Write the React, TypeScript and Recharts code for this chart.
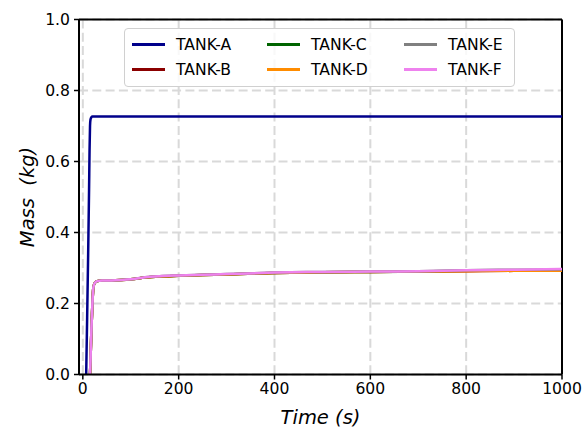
import { LineChart, Line, XAxis, YAxis, CartesianGrid, Legend, ReferenceLine, Label } from "recharts";

const times = [7, 9, 11, 13, 14, 15, 16, 18, 20, 22, 25, 30, 40, 60, 80, 100, 130, 160, 200, 250, 300, 400, 500, 600, 700, 800, 900, 1000];

const tankA = [0, 0.16, 0.33, 0.52, 0.63, 0.7, 0.718, 0.725, 0.727, 0.727, 0.727, 0.727, 0.727, 0.727, 0.727, 0.727, 0.727, 0.727, 0.727, 0.727, 0.727, 0.727, 0.727, 0.727, 0.727, 0.727, 0.727, 0.727];
const tankB = [null, null, null, null, null, 0, 0.04, 0.13, 0.2, 0.245, 0.258, 0.263, 0.265, 0.265, 0.266, 0.268, 0.273, 0.276, 0.278, 0.28, 0.282, 0.286, 0.288, 0.289, 0.29, 0.291, 0.292, 0.292];
const tankC = [null, null, null, null, null, 0, 0.04, 0.13, 0.2, 0.245, 0.258, 0.263, 0.265, 0.265, 0.266, 0.268, 0.273, 0.276, 0.278, 0.28, 0.282, 0.286, 0.288, 0.289, 0.29, 0.292, 0.293, 0.293];
const tankD = [null, null, null, null, null, 0, 0.04, 0.13, 0.2, 0.245, 0.258, 0.263, 0.265, 0.265, 0.266, 0.268, 0.273, 0.276, 0.278, 0.28, 0.282, 0.286, 0.288, 0.289, 0.29, 0.291, 0.292, 0.292];
const tankE = [null, null, null, null, null, 0, 0.04, 0.13, 0.2, 0.245, 0.258, 0.263, 0.265, 0.265, 0.266, 0.268, 0.274, 0.277, 0.279, 0.281, 0.283, 0.287, 0.289, 0.29, 0.291, 0.294, 0.295, 0.296];
const tankF = [null, null, null, null, null, 0, 0.04, 0.13, 0.2, 0.245, 0.258, 0.263, 0.265, 0.265, 0.266, 0.268, 0.274, 0.277, 0.279, 0.281, 0.283, 0.287, 0.289, 0.29, 0.291, 0.294, 0.295, 0.297];

const xTicks = [0, 200, 400, 600, 800, 1000];
const yTicks = [0, 0.2, 0.4, 0.6, 0.8, 1.0];

const series = [
  { key: "A", name: "TANK-A", color: "#00008b", values: tankA },
  { key: "B", name: "TANK-B", color: "#8b0000", values: tankB },
  { key: "C", name: "TANK-C", color: "#006400", values: tankC },
  { key: "D", name: "TANK-D", color: "#ff8c00", values: tankD },
  { key: "E", name: "TANK-E", color: "#808080", values: tankE },
  { key: "F", name: "TANK-F", color: "#ee82ee", values: tankF },
];

const data = times.map((t, i) => {
  const row: Record<string, number | null> = { t };
  series.forEach((s) => {
    row[s.key] = s.values[i];
  });
  return row;
});

const font = "'DejaVu Sans', sans-serif";
const tickStyle = { fill: "#000", fontSize: 15.6, fontFamily: font };

function LegendBox(props: any) {
  const payload = props.payload || [];
  return (
    <div
      style={{
        boxSizing: "border-box",
        width: 391,
        height: 59,
        border: "1px solid #d0d0d0",
        borderRadius: 4,
        background: "rgba(255,255,255,0.8)",
        paddingLeft: 7,
        paddingTop: 3,
        display: "grid",
        gridTemplateColumns: "135px 137px 1fr",
        gridTemplateRows: "25px 25px",
        gridAutoFlow: "column",
        fontFamily: font,
        fontSize: 15.6,
        color: "#000",
      }}
    >
      {payload.map((p: any) => (
        <div key={p.value} style={{ display: "flex", alignItems: "center" }}>
          <span style={{ display: "inline-block", width: 33, height: 2.6, background: p.color, marginRight: 11 }} />
          <span>{p.value}</span>
        </div>
      ))}
    </div>
  );
}

export default function App() {
  return (
    <div style={{ position: "absolute", left: 0, top: 0 }}>
      <LineChart width={584} height={430} data={data} margin={{ top: 19.5, right: 22, bottom: 0, left: 0 }}>
        <CartesianGrid stroke="#d9d9d9" strokeDasharray="9 4.3" strokeWidth={2} />
        <XAxis
          dataKey="t"
          type="number"
          domain={[-8, 1000]}
          ticks={xTicks}
          interval={0}
          allowDataOverflow
          height={55.5}
          tick={tickStyle}
          tickSize={5}
          tickMargin={3}
          axisLine={{ stroke: "#000", strokeWidth: 2 }}
          tickLine={{ stroke: "#000", strokeWidth: 1.5 }}
        >
          <Label
            value="Time (s)"
            position="insideBottom"
            offset={6}
            style={{ fill: "#000", fontSize: 19.5, fontFamily: font, fontStyle: "italic" }}
          />
        </XAxis>
        <YAxis
          type="number"
          domain={[0, 1]}
          ticks={yTicks}
          interval={0}
          width={79}
          tick={tickStyle}
          tickSize={5}
          tickMargin={4}
          tickFormatter={(v: number) => v.toFixed(1)}
          axisLine={{ stroke: "#000", strokeWidth: 2 }}
          tickLine={{ stroke: "#000", strokeWidth: 1.5 }}
        >
          <Label
            value={"Mass\u00a0 (kg)"}
            angle={-90}
            position="insideLeft"
            offset={27}
            style={{ fill: "#000", fontSize: 19.5, fontFamily: font, fontStyle: "italic", textAnchor: "middle" }}
          />
        </YAxis>
        <ReferenceLine y={1} stroke="#000" strokeWidth={2} />
        <ReferenceLine x={1000} stroke="#000" strokeWidth={2} />
        {series.map((s) => (
          <Line
            key={s.key}
            dataKey={s.key}
            name={s.name}
            stroke={s.color}
            strokeWidth={2.5}
            dot={false}
            type="monotone"
            isAnimationActive={false}
          />
        ))}
        <Legend
          layout="horizontal"
          verticalAlign="middle"
          align="center"
          content={LegendBox}
          wrapperStyle={{ left: 124, top: 28, width: 391, height: 59 }}
        />
      </LineChart>
    </div>
  );
}
